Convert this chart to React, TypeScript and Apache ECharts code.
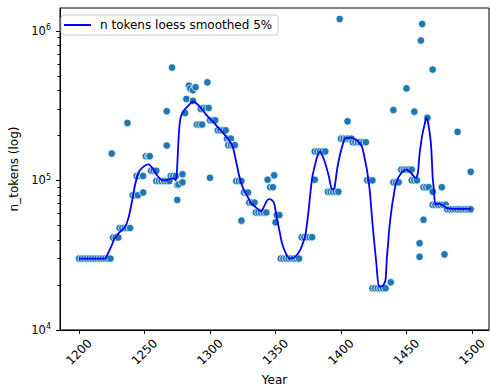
import React, { useEffect, useRef } from "react";
import * as echarts from "echarts";

// Observed points: [year, n_tokens]
const tokenPoints: [number, number][] = [
  [1200, 30000], [1202, 30000], [1204, 30000], [1206, 30000], [1208, 30000], [1210, 30000],
  [1212, 30000], [1214, 30000], [1216, 30000], [1218, 30000], [1220, 30000], [1222, 30000], [1224, 30000],
  [1225, 151000],
  [1226, 41500], [1228, 41500], [1230, 41500],
  [1231, 48000], [1233, 48000], [1235, 48000], [1237, 48000], [1239, 48000],
  [1237, 242000],
  [1241, 79500], [1243, 79500], [1245, 79500],
  [1249, 83000],
  [1244, 107000], [1246, 107000], [1248, 107000], [1249, 107000],
  [1251, 145000], [1253, 145000], [1254, 145000],
  [1255, 116000], [1257, 116000], [1259, 116000],
  [1259, 99000], [1261, 99000], [1263, 99000], [1265, 99000], [1267, 99000], [1269, 99000],
  [1267, 171000], [1267, 290000], [1271, 568000],
  [1270, 107000], [1272, 107000], [1274, 107000],
  [1275, 74000], [1275, 93000], [1276, 94000],
  [1279, 110000], [1279, 97000],
  [1281, 282000], [1282, 350000],
  [1284, 430000], [1285, 410000], [1287, 400000], [1289, 420000],
  [1287, 340000],
  [1290, 236000], [1292, 236000], [1294, 236000],
  [1293, 300000], [1295, 305000], [1297, 305000], [1299, 305000],
  [1298, 452000],
  [1300, 252000], [1302, 252000], [1304, 252000],
  [1300, 104000],
  [1306, 216000], [1308, 216000], [1310, 216000], [1312, 216000],
  [1313, 190000], [1315, 190000], [1316, 190000],
  [1314, 172000], [1316, 172000], [1318, 172000], [1319, 172000],
  [1320, 99000], [1322, 99000], [1324, 99000],
  [1324, 53800],
  [1326, 83000], [1328, 83000], [1329, 83000],
  [1330, 71000], [1332, 71000], [1334, 71000],
  [1335, 61000], [1337, 61000], [1339, 61000], [1341, 61000], [1343, 61000],
  [1344, 101000], [1349, 108000],
  [1346, 90000], [1348, 90000],
  [1351, 58600], [1353, 58600],
  [1350, 52400],
  [1354, 30000], [1356, 30000], [1358, 30000], [1360, 30000], [1362, 30000], [1364, 30000],
  [1366, 30000], [1368, 30000],
  [1370, 41700], [1372, 41700], [1374, 41700], [1376, 41700], [1378, 41700],
  [1380, 101000],
  [1380, 156000], [1382, 156000], [1384, 156000], [1386, 156000], [1388, 156000],
  [1390, 84000], [1392, 84000], [1394, 84000], [1396, 84000], [1398, 84000],
  [1399, 1200000],
  [1400, 190000], [1402, 190000], [1404, 190000], [1406, 190000], [1408, 190000],
  [1405, 248000],
  [1409, 180000], [1411, 180000], [1413, 180000], [1415, 180000], [1417, 180000], [1419, 180000],
  [1420, 100000], [1422, 100000], [1424, 100000],
  [1424, 19000], [1426, 19000], [1428, 19000], [1430, 19000], [1432, 19000], [1434, 19000],
  [1438, 20800],
  [1440, 295000],
  [1440, 97000], [1442, 97000], [1444, 97000],
  [1446, 118000], [1448, 118000], [1450, 118000], [1452, 118000], [1454, 118000],
  [1450, 412000], [1456, 288000],
  [1454, 100000], [1456, 100000], [1458, 100000],
  [1460, 30800], [1460, 38000],
  [1461, 860000], [1462, 1110000],
  [1463, 54500],
  [1463, 90000], [1465, 90000], [1467, 90000],
  [1470, 84000], [1477, 90000],
  [1466, 262000], [1470, 550000],
  [1479, 32000], [1489, 211000], [1499, 114000],
  [1470, 68600], [1472, 68600], [1474, 68600], [1476, 68600], [1478, 68600], [1480, 68600],
  [1481, 64000], [1483, 64000], [1485, 64000], [1487, 64000], [1489, 64000], [1491, 64000],
  [1493, 64000], [1495, 64000], [1497, 64000], [1499, 64000],
];

// LOESS (5%) smoothed curve
const loessYears: number[] = [
  1200, 1210, 1220, 1222, 1225, 1227, 1231, 1235, 1238, 1241, 1243, 1246, 1250, 1253, 1256, 1260,
  1264, 1268, 1272, 1274, 1275, 1276, 1277, 1278, 1280, 1284, 1287, 1290, 1293, 1297, 1302, 1307,
  1312, 1316, 1318, 1320, 1322, 1324, 1326, 1329, 1331, 1335, 1339, 1341, 1343, 1345, 1347, 1349,
  1351, 1353, 1355, 1358, 1361, 1365, 1369, 1372, 1373, 1375, 1377, 1378, 1380, 1382, 1384, 1386,
  1388, 1391, 1393, 1395, 1397, 1399, 1401, 1403, 1407, 1412, 1414, 1416, 1417, 1419, 1420, 1422,
  1424, 1425, 1427, 1429, 1432, 1434, 1435, 1436, 1437, 1439, 1440, 1442, 1446, 1450, 1453, 1457,
  1458, 1459, 1460, 1461, 1462, 1464, 1465, 1466, 1468, 1469, 1470, 1471, 1472, 1475, 1477, 1481,
  1486, 1499,
];
const loessValues: number[] = [
  30000, 30000, 30000, 32400, 36800, 40700, 45000, 48500, 57000, 76600, 95000, 115000, 125000, 128000, 121000, 107000,
  100000, 101000, 103000, 100000, 125000, 190000, 245000, 270000, 293000, 320000, 337000, 325000, 305000, 275000, 248000, 222000,
  198000, 177000, 160000, 133000, 110000, 95000, 86000, 77000, 71000, 66000, 62000, 66000, 72000, 75000, 74000, 70000,
  56000, 46000, 38000, 32400, 30000, 30800, 34400, 40500, 44000, 60000, 88000, 104000, 125000, 145000, 156000, 145000,
  130000, 104000, 87000, 89000, 118000, 145000, 170000, 190000, 193000, 186000, 178000, 168000, 156000, 128000, 115000, 85000,
  52000, 42000, 27800, 19500, 19700, 21600, 30000, 38000, 48600, 68000, 77000, 96000, 112000, 118000, 113000, 104000,
  106000, 118000, 150000, 175000, 200000, 240000, 262000, 255000, 200000, 160000, 105000, 85000, 69000, 70000, 68600, 65200,
  64500, 64500,
];

const xTicks: number[] = [1200, 1250, 1300, 1350, 1400, 1450, 1500];
const yMajorTicks: number[] = [10000, 100000, 1000000];
const yMinorTicks: number[] = [
  20000, 30000, 40000, 50000, 60000, 70000, 80000, 90000,
  200000, 300000, 400000, 500000, 600000, 700000, 800000, 900000,
];

const FONT = "DejaVu Sans";

export default function App() {
  const ref = useRef<HTMLDivElement>(null);
  useEffect(() => {
    document.body.style.margin = "0";
    if (!ref.current) return;
    const chart = echarts.init(ref.current, null, { renderer: "svg" });
    const loessData = loessYears.map((y, i) => [y, loessValues[i]]);
    chart.setOption({
      animation: false,
      backgroundColor: "#ffffff",
      textStyle: { fontFamily: FONT },
      grid: {
        left: 55,
        right: 1,
        top: 8,
        bottom: 57,
        show: true,
        borderColor: "#000",
        borderWidth: 1,
        backgroundColor: "transparent",
      },
      legend: {
        left: 61,
        top: 15,
        data: [{ name: "n tokens loess smoothed 5%", icon: "rect" }],
        itemWidth: 27,
        itemHeight: 2,
        backgroundColor: "rgba(255,255,255,0.8)",
        borderColor: "#cccccc",
        borderWidth: 1,
        borderRadius: 3,
        padding: [4, 6, 4, 3],
        textStyle: { fontSize: 12, color: "#000", fontFamily: FONT, padding: [0, 0, 0, 4] },
      },
      xAxis: {
        type: "value",
        min: 1185.5,
        max: 1513,
        name: "Year",
        nameLocation: "middle",
        nameGap: 44,
        nameTextStyle: { fontSize: 12, color: "#000", fontFamily: FONT },
        axisLine: { show: true, lineStyle: { color: "#000", width: 1 } },
        axisTick: { show: true, customValues: xTicks, length: 4, lineStyle: { color: "#000" } },
        axisLabel: {
          customValues: xTicks,
          rotate: 45,
          align: "center",
          verticalAlign: "middle",
          margin: 22,
          fontSize: 12,
          color: "#000",
          fontFamily: FONT,
          formatter: (v: number) => String(v),
        },
        splitLine: { show: false },
      },
      yAxis: [
        {
          type: "log",
          logBase: 10,
          min: 10000,
          max: 1420000,
          name: "n_tokens (log)",
          nameLocation: "middle",
          nameGap: 40,
          nameTextStyle: { fontSize: 12, color: "#000", fontFamily: FONT },
          axisLine: { show: true, lineStyle: { color: "#000", width: 1 } },
          axisTick: { show: true, customValues: yMajorTicks, length: 4, lineStyle: { color: "#000" } },
          axisLabel: {
            customValues: yMajorTicks,
            margin: 9,
            color: "#000",
            fontFamily: FONT,
            formatter: (v: number) => `{b|10}{s|${Math.round(Math.log10(v))}}`,
            rich: {
              b: { fontSize: 11.5, color: "#000", fontFamily: FONT },
              s: { fontSize: 8, color: "#000", fontFamily: FONT, verticalAlign: "bottom", padding: [0, 0, 6, 0] },
            },
          },
          splitLine: { show: false },
        },
        {
          type: "log",
          logBase: 10,
          min: 10000,
          max: 1420000,
          position: "left",
          axisLine: { show: false },
          axisTick: { show: true, customValues: yMinorTicks, length: 2.5, lineStyle: { color: "#000" } },
          axisLabel: { show: false },
          splitLine: { show: false },
        },
      ],
      series: [
        {
          type: "scatter",
          name: "points",
          data: tokenPoints,
          symbolSize: 7.5,
          itemStyle: { color: "#1f77b4", borderColor: "#ffffff", borderWidth: 0.75, opacity: 1 },
          z: 2,
        },
        {
          type: "line",
          name: "n tokens loess smoothed 5%",
          data: loessData,
          showSymbol: false,
          symbol: "none",
          smooth: 0.2,
          color: "#0000ff",
          lineStyle: { color: "#0000ff", width: 1.8 },
          z: 3,
        },
      ],
    });
    return () => chart.dispose();
  }, []);
  return <div ref={ref} style={{ width: 490, height: 391 }} />;
}
